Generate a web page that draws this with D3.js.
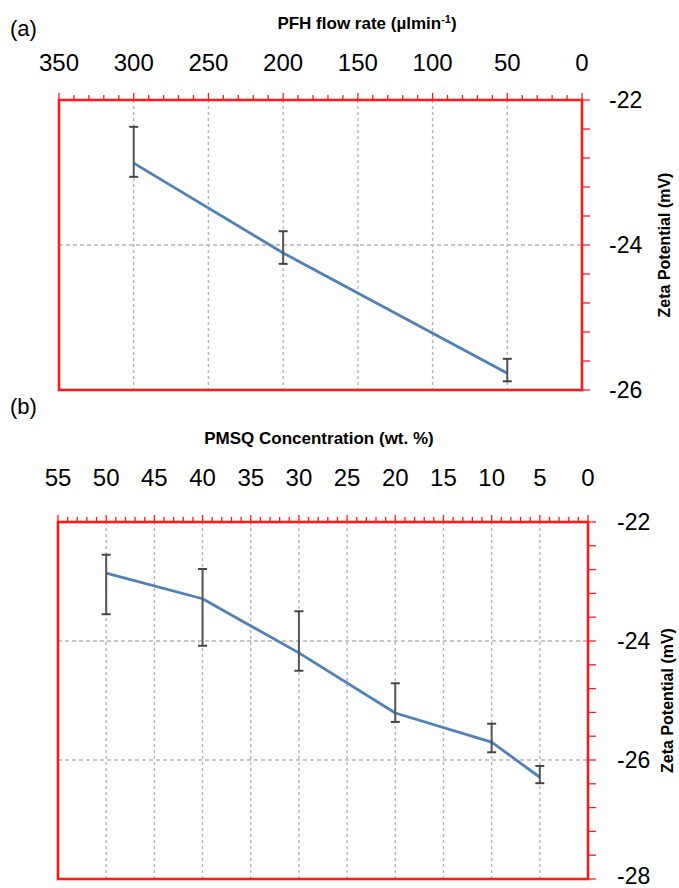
<!DOCTYPE html>
<html>
<head>
<meta charset="utf-8">
<script src="https://cdn.jsdelivr.net/npm/d3@7"></script>
<style>
body { margin: 0; background: #fff; }
svg { font-family: "Liberation Sans", Arial, sans-serif; }
</style>
</head>
<body>
<svg width="679" height="888"></svg>
<script>
var svg = d3.select('svg');

//panel (a): zeta potential vs PFH flow rate
var flowRate = [300, 200, 50];
var zetaA = [-22.87, -24.11, -25.77];
var zetaAHigh = [-22.37, -23.81, -25.57];
var zetaALow = [-23.06, -24.26, -25.88];

//panel (b): zeta potential vs PMSQ concentration
var pmsq = [50, 40, 30, 20, 10, 5];
var zetaB = [-22.86, -23.29, -24.20, -25.21, -25.70, -26.29];
var zetaBHigh = [-22.55, -22.79, -23.50, -24.71, -25.39, -26.10];
var zetaBLow = [-23.55, -24.08, -24.50, -25.36, -25.87, -26.39];

//tick labels
var flowTicks = [350, 300, 250, 200, 150, 100, 50, 0];
var pmsqTicks = [55, 50, 45, 40, 35, 30, 25, 20, 15, 10, 5, 0];
var zetaTicksA = [-22, -24, -26];
var zetaTicksB = [-22, -24, -26, -28];

var red = '#ff1a1a';

function drawPanel(p){

    var g = svg.append('g');

    var x = d3.scaleLinear().domain([p.xTicks[0], 0]).range([p.left, p.right]);
    var y = d3.scaleLinear().domain([p.yTicks[p.yTicks.length - 1], p.yTicks[0]]).range([p.bottom, p.top]);

    //dashed grid lines
    g.selectAll('.vgrid')
        .data(p.xTicks.filter(function(d){ return d % p.xGrid == 0 && d != 0 && d != p.xTicks[0]; }))
        .enter().append('line')
        .attr('x1', function(d){ return x(d); })
        .attr('x2', function(d){ return x(d); })
        .attr('y1', p.top).attr('y2', p.bottom)
        .attr('stroke', '#b4b4b4').attr('stroke-width', 1.4)
        .attr('stroke-dasharray', '3,3');

    g.selectAll('.hgrid')
        .data(p.yTicks.slice(1, -1))
        .enter().append('line')
        .attr('x1', p.left).attr('x2', p.right)
        .attr('y1', function(d){ return y(d); })
        .attr('y2', function(d){ return y(d); })
        .attr('stroke', '#b4b4b4').attr('stroke-width', 1.4)
        .attr('stroke-dasharray', '4,3');

    //minor ticks along the top
    var xMinor = d3.range(0, p.xTicks[0] + 0.001, p.xMinor);
    g.selectAll('.xtick')
        .data(xMinor)
        .enter().append('line')
        .attr('x1', function(d){ return x(d); })
        .attr('x2', function(d){ return x(d); })
        .attr('y1', p.top)
        .attr('y2', function(d){ return p.xTicks.indexOf(Math.round(d)) >= 0 ? p.top - 7 : p.top - 5; })
        .attr('stroke', red).attr('stroke-width', 1.3);

    //minor ticks on the right
    var yMinor = d3.range(0, Math.round((p.yTicks[0] - p.yTicks[p.yTicks.length - 1]) / 0.4) + 1)
        .map(function(i){ return p.yTicks[p.yTicks.length - 1] + i * 0.4; });
    g.selectAll('.ytick')
        .data(yMinor)
        .enter().append('line')
        .attr('x1', p.right).attr('x2', p.right + 8)
        .attr('y1', function(d){ return y(d); })
        .attr('y2', function(d){ return y(d); })
        .attr('stroke', red).attr('stroke-width', 1.3);

    //red frame
    g.append('rect')
        .attr('x', p.left).attr('y', p.top)
        .attr('width', p.right - p.left).attr('height', p.bottom - p.top)
        .attr('fill', 'none').attr('stroke', red).attr('stroke-width', 2.6);

    //x tick labels
    g.selectAll('.xlab')
        .data(p.xTicks)
        .enter().append('text')
        .attr('x', function(d){ return x(d); })
        .attr('y', p.xLabelY)
        .attr('text-anchor', 'middle')
        .attr('font-size', 24)
        .text(function(d){ return d; });

    //y tick labels
    g.selectAll('.ylab')
        .data(p.yTicks)
        .enter().append('text')
        .attr('x', p.right + p.yLabelDx)
        .attr('y', function(d){ return Math.min(y(d), 876); })
        .attr('dy', '0.34em')
        .attr('font-size', 23)
        .text(function(d){ return '-' + Math.abs(d); });

    //axis titles
    g.append('text')
        .attr('x', p.titleX).attr('y', p.titleY)
        .attr('text-anchor', 'middle')
        .attr('font-size', 17).attr('font-weight', 'bold')
        .html(p.title);

    g.append('text')
        .attr('transform', 'translate(' + p.yTitleX + ',' + (p.top + p.bottom) / 2 + ') rotate(-90)')
        .attr('text-anchor', 'middle')
        .attr('dy', '0.35em')
        .attr('font-size', 16).attr('font-weight', 'bold')
        .text('Zeta Potential (mV)');

    //panel letter
    g.append('text')
        .attr('x', 10).attr('y', p.letterY)
        .attr('font-size', 22)
        .text(p.letter);

    //data line
    var pts = p.xs.map(function(d, i){ return [d, p.ys[i]]; });
    var line = d3.line()
        .x(function(d){ return x(d[0]); })
        .y(function(d){ return y(d[1]); });

    g.append('path')
        .datum(pts)
        .attr('d', line)
        .attr('fill', 'none')
        .attr('stroke', '#4f81bd')
        .attr('stroke-width', 2.8)
        .attr('stroke-linejoin', 'round');

    //error bars
    var bars = g.selectAll('.err')
        .data(p.xs.map(function(d, i){ return {x: d, hi: p.hi[i], lo: p.lo[i]}; }))
        .enter().append('g');

    bars.append('line')
        .attr('x1', function(d){ return x(d.x); })
        .attr('x2', function(d){ return x(d.x); })
        .attr('y1', function(d){ return y(d.hi); })
        .attr('y2', function(d){ return y(d.lo); })
        .attr('stroke', '#555').attr('stroke-width', 2);

    bars.selectAll('.cap')
        .data(function(d){ return [[d.x, d.hi], [d.x, d.lo]]; })
        .enter().append('line')
        .attr('x1', function(d){ return x(d[0]) - 4.5; })
        .attr('x2', function(d){ return x(d[0]) + 4.5; })
        .attr('y1', function(d){ return y(d[1]); })
        .attr('y2', function(d){ return y(d[1]); })
        .attr('stroke', '#444').attr('stroke-width', 2);
}

drawPanel({
    left: 59, right: 582, top: 100, bottom: 390,
    xTicks: flowTicks, xMinor: 10, xGrid: 50,
    yTicks: zetaTicksA,
    xs: flowRate, ys: zetaA, hi: zetaAHigh, lo: zetaALow,
    xLabelY: 71, yLabelDx: 27,
    title: 'PFH flow rate (µlmin<tspan dy="-6" font-size="11">-1</tspan><tspan dy="6">)</tspan>',
    titleX: 367, titleY: 29,
    yTitleX: 664,
    letter: '(a)', letterY: 36
});

drawPanel({
    left: 58, right: 588, top: 522, bottom: 879,
    xTicks: pmsqTicks, xMinor: 1, xGrid: 5,
    yTicks: zetaTicksB,
    xs: pmsq, ys: zetaB, hi: zetaBHigh, lo: zetaBLow,
    xLabelY: 486, yLabelDx: 29,
    title: 'PMSQ Concentration (wt. %)',
    titleX: 319, titleY: 444,
    yTitleX: 667,
    letter: '(b)', letterY: 414
});
</script>
</body>
</html>
